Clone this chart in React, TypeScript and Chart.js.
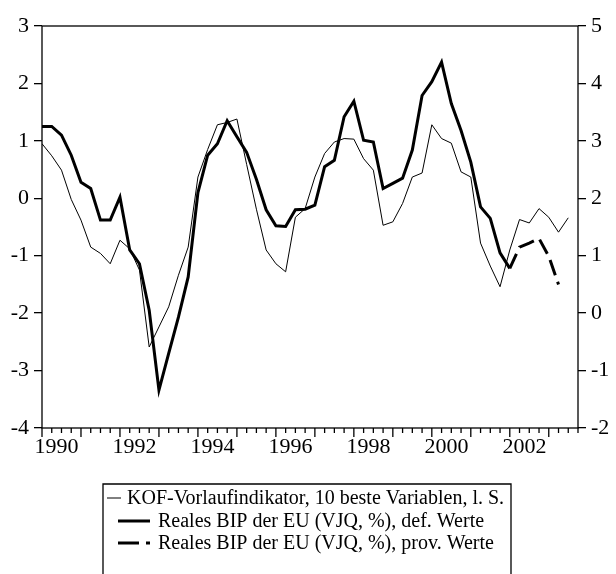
import React, { useEffect, useRef } from "react";
import { Chart, registerables } from "chart.js";

Chart.register(...registerables);

const W = 616;
const H = 574;
const FONT = "'Liberation Serif', 'Times New Roman', serif";

// x index 0 = 1990Q1, axis runs to 2003Q4 (index 55)
const firstYear = 1990;
const axisQuarters = 55;
const yearLabels = ["1990", "1992", "1994", "1996", "1998", "2000", "2002"];

// KOF-Vorlaufindikator (left scale), quarterly from 1990Q1
const kof = [
  0.95, 0.74, 0.49, -0.02, -0.38, -0.85, -0.96, -1.14, -0.73, -0.88,
  -1.25, -2.59, -2.24, -1.89, -1.34, -0.85, 0.37, 0.85, 1.28, 1.32,
  1.38, 0.59, -0.19, -0.9, -1.14, -1.28, -0.33, -0.18, 0.37, 0.78,
  0.98, 1.04, 1.03, 0.69, 0.49, -0.47, -0.41, -0.09, 0.37, 0.44,
  1.28, 1.04, 0.96, 0.46, 0.37, -0.78, -1.18, -1.54, -0.9, -0.37,
  -0.43, -0.18, -0.33, -0.59, -0.34,
];

// Reales BIP der EU, definitive values (right scale), from 1990Q1
const bipDef = [
  3.25, 3.25, 3.1, 2.75, 2.28, 2.17, 1.62, 1.62, 2.02, 1.1,
  0.86, 0.05, -1.34, -0.7, -0.07, 0.63, 2.1, 2.75, 2.95, 3.35,
  3.07, 2.8, 2.33, 1.8, 1.52, 1.51, 1.8, 1.81, 1.88, 2.55,
  2.66, 3.42, 3.69, 3.01, 2.98, 2.17, 2.26, 2.35, 2.84, 3.79,
  4.03, 4.37, 3.65, 3.18, 2.63, 1.85, 1.65, 1.05, 0.78,
];

// Reales BIP der EU, provisional values (right scale), from 2002Q1
const bipProvStart = 48;
const bipProv = [0.78, 1.15, 1.22, 1.3, 0.99, 0.5];

const legendLabels = [
  "KOF-Vorlaufindikator, 10 beste Variablen, l. S.",
  "Reales BIP der EU (VJQ, %), def. Werte",
  "Reales BIP der EU (VJQ, %), prov. Werte",
];

const framePlugin = {
  id: "frame",
  afterDraw(chart: any) {
    const { ctx, chartArea: a, scales } = chart;
    const xs = scales.x;
    ctx.save();
    ctx.strokeStyle = "#000";
    ctx.fillStyle = "#000";
    ctx.lineWidth = 1.3;
    ctx.setLineDash([]);
    ctx.strokeRect(a.left, a.top, a.right - a.left, a.bottom - a.top);
    for (let q = 0; q <= axisQuarters; q++) {
      const px = xs.getPixelForValue(q);
      const len = q % 4 === 0 ? 9 : 5;
      ctx.beginPath();
      ctx.moveTo(px, a.bottom);
      ctx.lineTo(px, a.bottom + len);
      ctx.stroke();
    }
    ctx.font = `22px ${FONT}`;
    ctx.textAlign = "center";
    ctx.textBaseline = "alphabetic";
    yearLabels.forEach((lbl) => {
      const q = (Number(lbl) - firstYear) * 4 + 1.5;
      ctx.fillText(lbl, xs.getPixelForValue(q), a.bottom + 25);
    });

    // legend box
    const bx0 = 103, bx1 = 511, by0 = 484;
    ctx.lineWidth = 1.3;
    ctx.beginPath();
    ctx.moveTo(bx0, H + 2);
    ctx.lineTo(bx0, by0);
    ctx.lineTo(bx1, by0);
    ctx.lineTo(bx1, H + 2);
    ctx.stroke();

    ctx.font = `20px ${FONT}`;
    ctx.textAlign = "left";
    ctx.textBaseline = "middle";
    const rows = [498, 521, 543];
    // row 1: thin
    ctx.lineWidth = 1;
    ctx.beginPath();
    ctx.moveTo(107, rows[0]);
    ctx.lineTo(121, rows[0]);
    ctx.stroke();
    ctx.fillText(legendLabels[0], 127, rows[0] + 1);
    // row 2: thick
    ctx.lineWidth = 3;
    ctx.beginPath();
    ctx.moveTo(118, rows[1]);
    ctx.lineTo(150, rows[1]);
    ctx.stroke();
    ctx.fillText(legendLabels[1], 158, rows[1] + 1);
    // row 3: dashed
    ctx.beginPath();
    ctx.moveTo(118, rows[2]);
    ctx.lineTo(139, rows[2]);
    ctx.moveTo(146, rows[2]);
    ctx.lineTo(150, rows[2]);
    ctx.stroke();
    ctx.fillText(legendLabels[2], 158, rows[2] + 1);
    ctx.restore();
  },
};

export default function App() {
  const ref = useRef<HTMLCanvasElement | null>(null);

  useEffect(() => {
    let chart: Chart | null = null;
    let cancelled = false;
    const make = () => {
      if (cancelled || !ref.current) return;
      const yTicks = { stepSize: 1, color: "#000", font: { size: 22, family: FONT }, padding: 5 };
      const yGrid = { drawOnChartArea: false, drawTicks: true, tickLength: 8, color: "#000", lineWidth: 1.3 };
      chart = new Chart(ref.current, {
        type: "line",
        data: {
          datasets: [
            {
              label: legendLabels[0],
              data: kof.map((v, i) => ({ x: i, y: v })),
              yAxisID: "y",
              borderColor: "#000",
              borderWidth: 1,
              pointRadius: 0,
              tension: 0,
              fill: false,
            },
            {
              label: legendLabels[1],
              data: bipDef.map((v, i) => ({ x: i, y: v })),
              yAxisID: "y2",
              borderColor: "#000",
              borderWidth: 3,
              pointRadius: 0,
              tension: 0,
              fill: false,
            },
            {
              label: legendLabels[2],
              data: bipProv.map((v, i) => ({ x: bipProvStart + i, y: v })),
              yAxisID: "y2",
              borderColor: "#000",
              borderWidth: 3,
              borderDash: [16, 7],
              pointRadius: 0,
              tension: 0,
              fill: false,
            },
          ],
        },
        options: {
          animation: false,
          responsive: false,
          devicePixelRatio: 1,
          layout: { padding: { top: 26, left: 0, right: 0, bottom: 0 } },
          plugins: { legend: { display: false }, tooltip: { enabled: false } },
          scales: {
            x: {
              type: "linear",
              min: 0,
              max: axisQuarters,
              ticks: { display: false },
              grid: { display: false },
              border: { display: false },
              afterFit(s: any) {
                s.height = H - 428;
              },
            },
            y: {
              type: "linear",
              position: "left",
              min: -4,
              max: 3,
              ticks: yTicks,
              grid: yGrid,
              border: { display: false },
              afterFit(s: any) {
                s.width = 42;
              },
            },
            y2: {
              type: "linear",
              position: "right",
              min: -2,
              max: 5,
              ticks: yTicks,
              grid: yGrid,
              border: { display: false },
              afterFit(s: any) {
                s.width = W - 578;
              },
            },
          },
        } as any,
        plugins: [framePlugin],
      });
    };
    const fonts: any = (document as any).fonts;
    if (fonts && fonts.load) {
      Promise.all([fonts.load(`22px ${FONT}`), fonts.load(`20px ${FONT}`)]).then(make, make);
    } else {
      make();
    }
    return () => {
      cancelled = true;
      if (chart) chart.destroy();
    };
  }, []);

  return (
    <div style={{ position: "absolute", left: 0, top: 0, width: W, height: H, background: "#fff" }}>
      <canvas ref={ref} width={W} height={H} style={{ display: "block", width: W, height: H }} />
    </div>
  );
}
